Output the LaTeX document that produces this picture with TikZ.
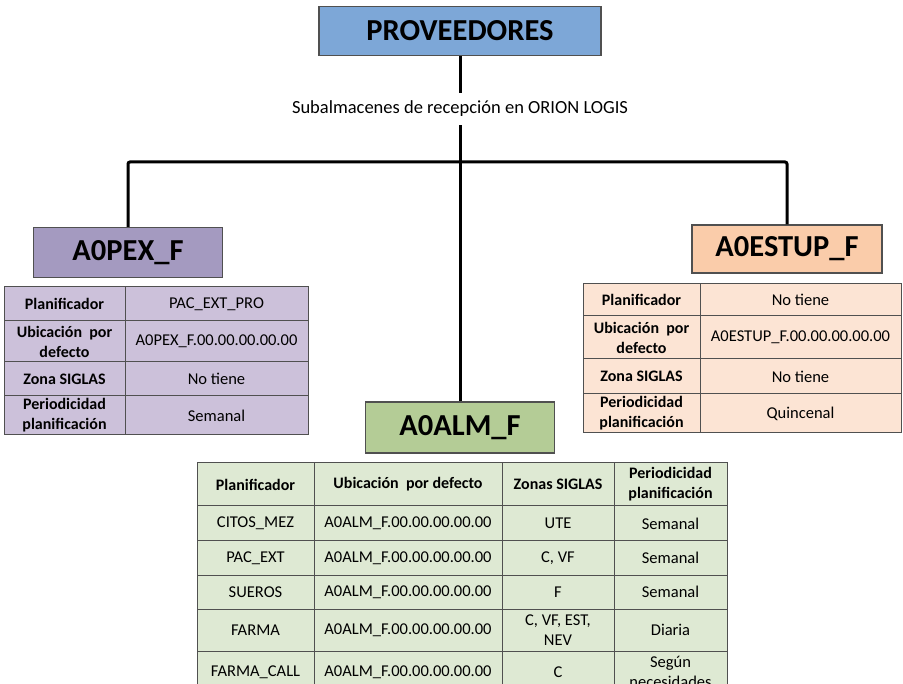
\documentclass[tikz,border=0pt]{standalone}
\usepackage{fontspec}
\setmainfont{Carlito}
\definecolor{provblue}{RGB}{125,167,215}
\definecolor{pexbox}{RGB}{164,154,192}
\definecolor{pexcell}{RGB}{204,193,218}
\definecolor{estbox}{RGB}{250,204,170}
\definecolor{estcell}{RGB}{252,228,212}
\definecolor{almbox}{RGB}{180,204,150}
\definecolor{almcell}{RGB}{222,233,211}
\definecolor{rim}{RGB}{80,80,80}

\begin{document}
\begin{tikzpicture}[x=1pt,y=-1pt,
    title/.style={draw=rim,line width=1.2pt,inner sep=0pt,font=\fontsize{30.5}{32}\selectfont\bfseries},
    cell/.style={draw=rim,line width=1pt,inner sep=0pt,align=center,font=\fontsize{16.5}{20}\selectfont},
    head/.style={cell,font=\fontsize{16}{20}\selectfont\bfseries},
    link/.style={line width=3pt,rounded corners=2pt}]
    \useasboundingbox (0,0) rectangle (903,684);
    \clip (0,0) rectangle (903,684);

    % cabecera
    \node[title,fill=provblue,minimum width=282pt,minimum height=49pt] (prov) at (460,31) {PROVEEDORES};
    \node[inner sep=0pt,minimum height=32pt,font=\fontsize{18.5}{20}\selectfont] (sub) at (460,109) {Subalmacenes de recepción en ORION LOGIS};
    \coordinate (hub) at (460,162);

    % subalmacenes
    \node[title,fill=pexbox,minimum width=189pt,minimum height=50pt] (pex) at (128,252.5) {A0PEX\_F};
    \node[title,fill=estbox,minimum width=190pt,minimum height=48pt] (est) at (787,249) {A0ESTUP\_F};
    \node[title,fill=almbox,minimum width=189pt,minimum height=51pt] (alm) at (460,427.5) {A0ALM\_F};

    \draw[link] (prov) -- (sub);
    \draw[link] (sub) -- (alm);
    \draw[link] (pex.north) |- (hub) -| (est.north);

    % tabla A0PEX_F
    \foreach \r/\t/\h/\lab/\val in {1/287/34/Planificador/PAC\_EXT\_PRO,
        2/321/41/{Ubicación\ \ por\\defecto}/A0PEX\_F.00.00.00.00.00,
        3/362/34/Zona SIGLAS/No tiene,
        4/396/39/{Periodicidad\\planificación}/Semanal} {
        \node[head,fill=pexcell,minimum width=121pt,minimum height=\h pt] (pexl\r) at (64.5,{\t+\h/2}) {\lab};
        \node[cell,fill=pexcell,minimum width=183pt,minimum height=\h pt] (pexv\r) at (216.5,{\t+\h/2}) {\val};
    }

    % tabla A0ESTUP_F
    \foreach \r/\t/\h/\lab/\val in {1/284/32/Planificador/No tiene,
        2/316/43/{Ubicación\ \ por\\defecto}/A0ESTUP\_F.00.00.00.00.00,
        3/359/35/Zona SIGLAS/No tiene,
        4/394/39/{Periodicidad\\planificación}/Quincenal} {
        \node[head,fill=estcell,minimum width=117pt,minimum height=\h pt] (estl\r) at (641.5,{\t+\h/2}) {\lab};
        \node[cell,fill=estcell,minimum width=201pt,minimum height=\h pt] (estv\r) at (800.5,{\t+\h/2}) {\val};
    }

    % tabla A0ALM_F
    \node[head,fill=almcell,minimum width=117pt,minimum height=43pt] (almh1) at (255.5,484.5) {Planificador};
    \node[head,fill=almcell,minimum width=188pt,minimum height=43pt] (almh2) at (408,484.5) {Ubicación\ \ por defecto};
    \node[head,fill=almcell,minimum width=112pt,minimum height=43pt] (almh3) at (558,484.5) {Zonas SIGLAS};
    \node[head,fill=almcell,minimum width=113pt,minimum height=43pt] (almh4) at (670.5,484.5) {Periodicidad\\planificación};
    \foreach \r/\t/\h/\pla/\zon/\per in {1/506/35/CITOS\_MEZ/UTE/Semanal,
        2/541/34/PAC\_EXT/{C, VF}/Semanal,
        3/575/34/SUEROS/F/Semanal,
        4/609/42/FARMA/{C, VF, EST,\\NEV}/Diaria,
        5/651/42/FARMA\_CALL/C/{Según\\necesidades}} {
        \node[cell,fill=almcell,minimum width=117pt,minimum height=\h pt] (alma\r) at (255.5,{\t+\h/2}) {\pla};
        \node[cell,fill=almcell,minimum width=188pt,minimum height=\h pt] (almb\r) at (408,{\t+\h/2}) {A0ALM\_F.00.00.00.00.00};
        \node[cell,fill=almcell,minimum width=112pt,minimum height=\h pt] (almc\r) at (558,{\t+\h/2}) {\zon};
        \node[cell,fill=almcell,minimum width=113pt,minimum height=\h pt] (almd\r) at (670.5,{\t+\h/2}) {\per};
    }
\end{tikzpicture}
\end{document}
